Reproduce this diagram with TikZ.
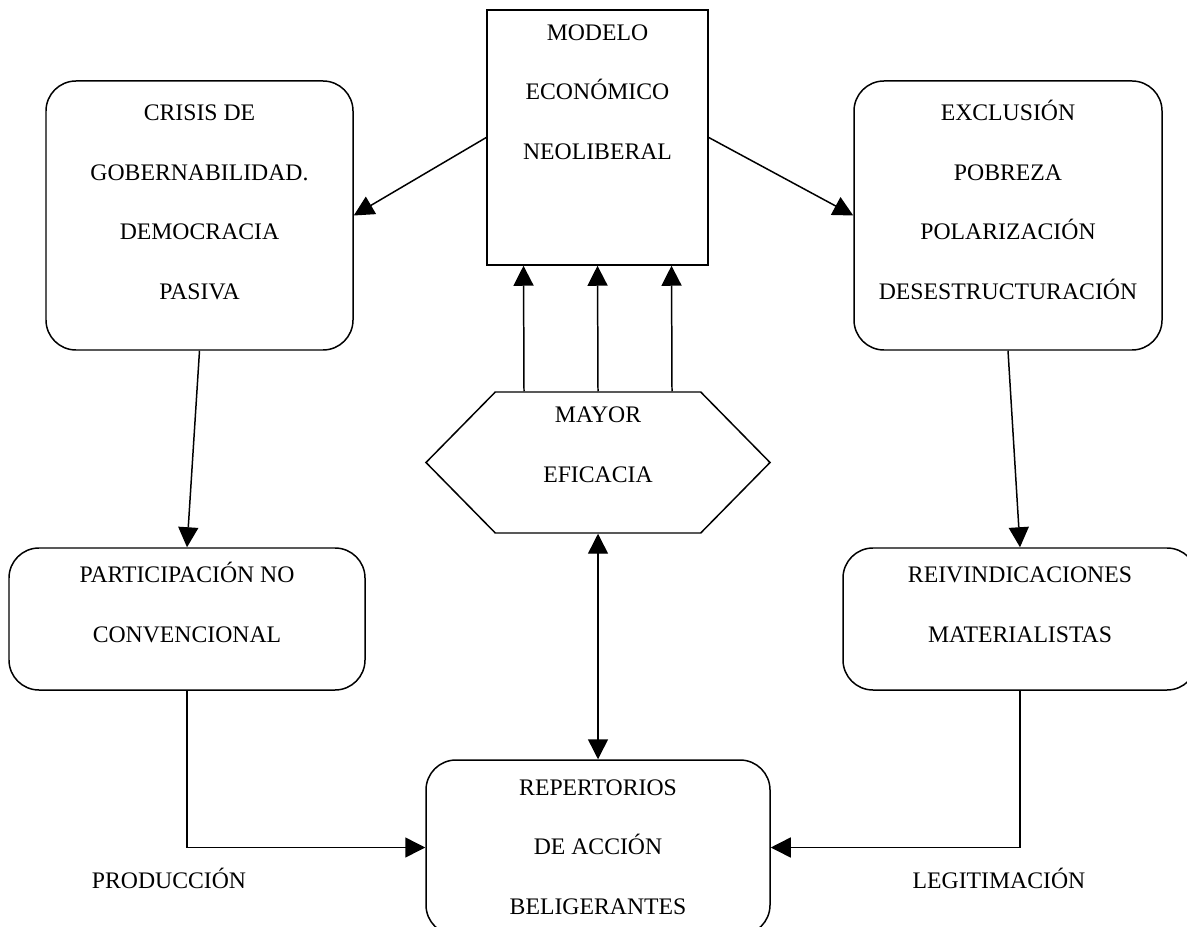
\documentclass[tikz,border=0pt]{standalone}
\usepackage{fontspec}
\setmainfont{Liberation Serif}
\usepackage{tikz}
\usetikzlibrary{arrows.meta,positioning,calc,shapes.symbols}
\tikzset{
  plainbox/.style={draw, line width=0.85pt, inner sep=0pt},
  roundbox/.style={draw, line width=0.85pt, rounded corners=6mm, inner sep=0pt},
  hexbox/.style={draw, line width=0.85pt, shape=signal, signal to=west and east,
    signal pointer angle=91, inner sep=0pt},
  boxtext/.style={align=center, inner sep=0pt, anchor=base,
    font=\fontsize{13.5pt}{33.85pt}\selectfont},
  tag/.style={inner sep=0pt, anchor=base, font=\fontsize{13.5pt}{33.85pt}\selectfont},
  flow/.style={-{Triangle[length=4mm,width=4mm]}, line width=0.85pt},
  bothflow/.style={{Triangle[length=4mm,width=4mm]}-{Triangle[length=4mm,width=4mm]}, line width=0.85pt}
}
\begin{document}
\begin{tikzpicture}[x=0.2mm, y=-0.2mm]
\useasboundingbox (0,0) rectangle (1187,927);
% boxes
\node[plainbox, minimum width=44.2mm, minimum height=51mm] (modelo) at (597.5,137.5) {};
\node[roundbox, minimum width=61.4mm, minimum height=53.8mm] (crisis) at (199.5,215.5) {};
\node[roundbox, minimum width=61.6mm, minimum height=53.8mm] (exclusion) at (1008,215.5) {};
\node[hexbox, minimum width=68.8mm, minimum height=28.2mm] (eficacia) at (598,462.5) {};
\node[roundbox, minimum width=71.2mm, minimum height=28.4mm] (participacion) at (187,619) {};
\node[roundbox, minimum width=70.8mm, minimum height=28.4mm] (reivindicaciones) at (1020,619) {};
\node[roundbox, minimum width=68.8mm, minimum height=35mm] (repertorios) at (598,847.5) {};

% texts (base = last line)
\node[boxtext] (modelo-t) at ([yshift=-30mm]modelo.north) {MODELO\\ECONÓMICO\\NEOLIBERAL};
\node[boxtext] (crisis-t) at ([yshift=-43.8mm]crisis.north) {CRISIS DE\\GOBERNABILIDAD.\\DEMOCRACIA\\PASIVA};
\node[boxtext] (exclusion-t) at ([yshift=-43.8mm]exclusion.north) {EXCLUSIÓN\\POBREZA\\POLARIZACIÓN\\DESESTRUCTURACIÓN};
\node[boxtext] (eficacia-t) at ([yshift=-18.2mm]eficacia.north) {MAYOR\\EFICACIA};
\node[boxtext] (participacion-t) at ([yshift=-19mm]participacion.north) {PARTICIPACIÓN NO\\CONVENCIONAL};
\node[boxtext] (reivindicaciones-t) at ([yshift=-19mm]reivindicaciones.north) {REIVINDICACIONES\\MATERIALISTAS};
\node[boxtext] (repertorios-t) at ([yshift=-31mm]repertorios.north) {REPERTORIOS\\DE ACCIÓN\\BELIGERANTES};
\node[tag] (produccion) at (169,888) {PRODUCCIÓN};
\node[tag] (legitimacion) at (999,888) {LEGITIMACIÓN};

% connectors
\draw[flow] (modelo.west) -- (crisis.east);
\draw[flow] (modelo.east) -- (exclusion.west);
\draw[flow] (crisis.south) -- (participacion.north);
\draw[flow] (exclusion.south) -- (reivindicaciones.north);
\foreach \dx in {-14.8,0,14.8}
  \draw[flow] ([xshift=\dx mm]eficacia.north) -- ([xshift=\dx mm]modelo.south);
\draw[bothflow] (eficacia.south) -- (repertorios.north);
\draw[flow] (participacion.south) |- (repertorios.west);
\draw[flow] (reivindicaciones.south) |- (repertorios.east);
\end{tikzpicture}
\end{document}
